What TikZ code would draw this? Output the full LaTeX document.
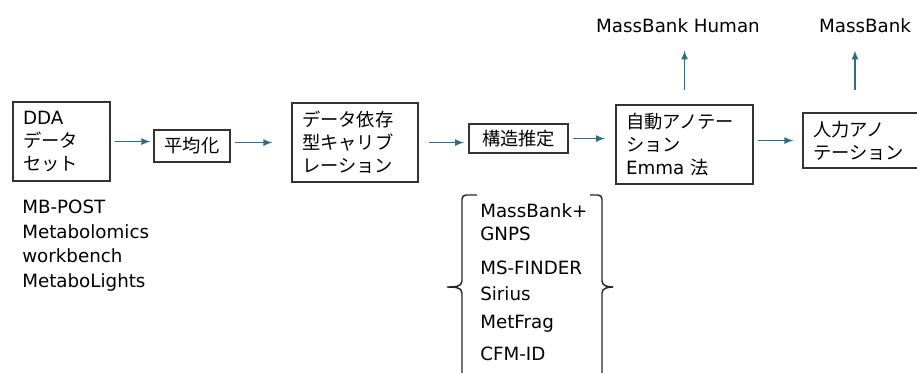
\documentclass[tikz,border=0pt]{standalone}
\usepackage{fontspec}
\setmainfont{DejaVu Sans}
\newfontfamily\jp{Noto Sans CJK JP}
\usetikzlibrary{arrows}
\usetikzlibrary{calc}

\definecolor{flowblue}{RGB}{46,108,140}
\tikzset{
    stagebox/.style={draw=black!80, line width=1.6pt, anchor=north west,
        align=left, inner xsep=7.5pt, inner ysep=0pt, minimum height=59.25pt},
    smallbox/.style={draw=black!80, line width=1.6pt, anchor=north west,
        align=center, inner sep=0pt},
    flow/.style={draw=flowblue, line width=1.3pt, -latex},
    brace/.style={draw=black!85, line width=1.1pt},
    tool/.style={anchor=base west, inner sep=0pt},
    target/.style={anchor=base, inner sep=0pt}
}

\begin{document}
\begin{tikzpicture}[x=0.75pt,y=-0.75pt,font=\fontsize{13.7pt}{17.25pt}\selectfont]
        \useasboundingbox (0,0) rectangle (917,372);

        % Boxes
        \node [stagebox, text width=57.75pt] (dda) at (12,101)
            {DDA\\{\jp データ}\\{\jp セット}};
        \node [smallbox, minimum width=57pt, minimum height=24pt] (avg) at (153,129)
            {\jp 平均化};
        \node [stagebox, text width=79.5pt] (calib) at (291,102)
            {\jp データ依存\\型キャリブ\\レーション};
        \node [smallbox, minimum width=74.25pt, minimum height=21.75pt] (struct) at (468,123)
            {\jp 構造推定};
        \node [stagebox, text width=87.75pt] (auto) at (615,104)
            {{\jp 自動アノテー}\\{\jp ション}\\Emma {\jp 法}};
        \node [stagebox, text width=90pt, minimum height=41.25pt] (manual) at (802,112)
            {\jp 人力アノ\\テーション};

        % Arrows
        \draw [flow, shorten <=3pt, shorten >=2pt] (dda.east) -- (dda.east -| avg.west);
        \draw [flow, shorten <=3pt, shorten >=14pt] (avg.east |- calib) -- (calib.west);
        \draw [flow, shorten <=7.5pt, shorten >=3pt] (calib.east) -- (calib.east -| struct.west);
        \draw [flow, shorten <=3pt, shorten >=7.5pt] (struct.east) -- (struct.east -| auto.west);
        \draw [flow, shorten <=3pt, shorten >=6.5pt] (auto.east |- manual) -- (manual.west);

        % Outputs
        \node [target] (human) at (678,32) {MassBank Human};
        \node [target] (bank) at (865,32) {MassBank};
        \coordinate (up) at ($(manual.north west)+(53,0)$);
        \draw [flow, shorten <=10.5pt, shorten >=13.5pt] (auto.north) -- (auto.north |- human.south);
        \draw [flow, shorten <=16.5pt, shorten >=13.5pt] (up) -- (up |- bank.south);

        % Data sources
        \node [anchor=north west, align=left, inner sep=0pt,
            font=\fontsize{13.7pt}{18.3pt}\selectfont] (sources) at (22,200)
            {MB-POST\\Metabolomics\\workbench\\MetaboLights};

        % Tools
        \node [anchor=base west, align=left, inner sep=0pt] (mbgnps) at (480,240)
            {MassBank+\\GNPS};
        \node [tool] (finder) at (480,274) {MS-FINDER};
        \node [tool] (sirius) at (480,300) {Sirius};
        \node [tool] (metfrag) at (480,328) {MetFrag};
        \node [tool] (cfmid) at (480,360) {CFM-ID};

        % Braces
        \draw [brace] (477,195) -- (466,195) to[out=180,in=90] (462,199) -- (462,281)
            to[out=-90,in=0] (447,287) to[out=0,in=90] (462,293) -- (462,380);
        \draw [brace] (590,195) -- (598,195) to[out=0,in=90] (602,199) -- (602,281)
            to[out=-90,in=180] (613,287) to[out=180,in=90] (602,293) -- (602,380);
\end{tikzpicture}
\end{document}
